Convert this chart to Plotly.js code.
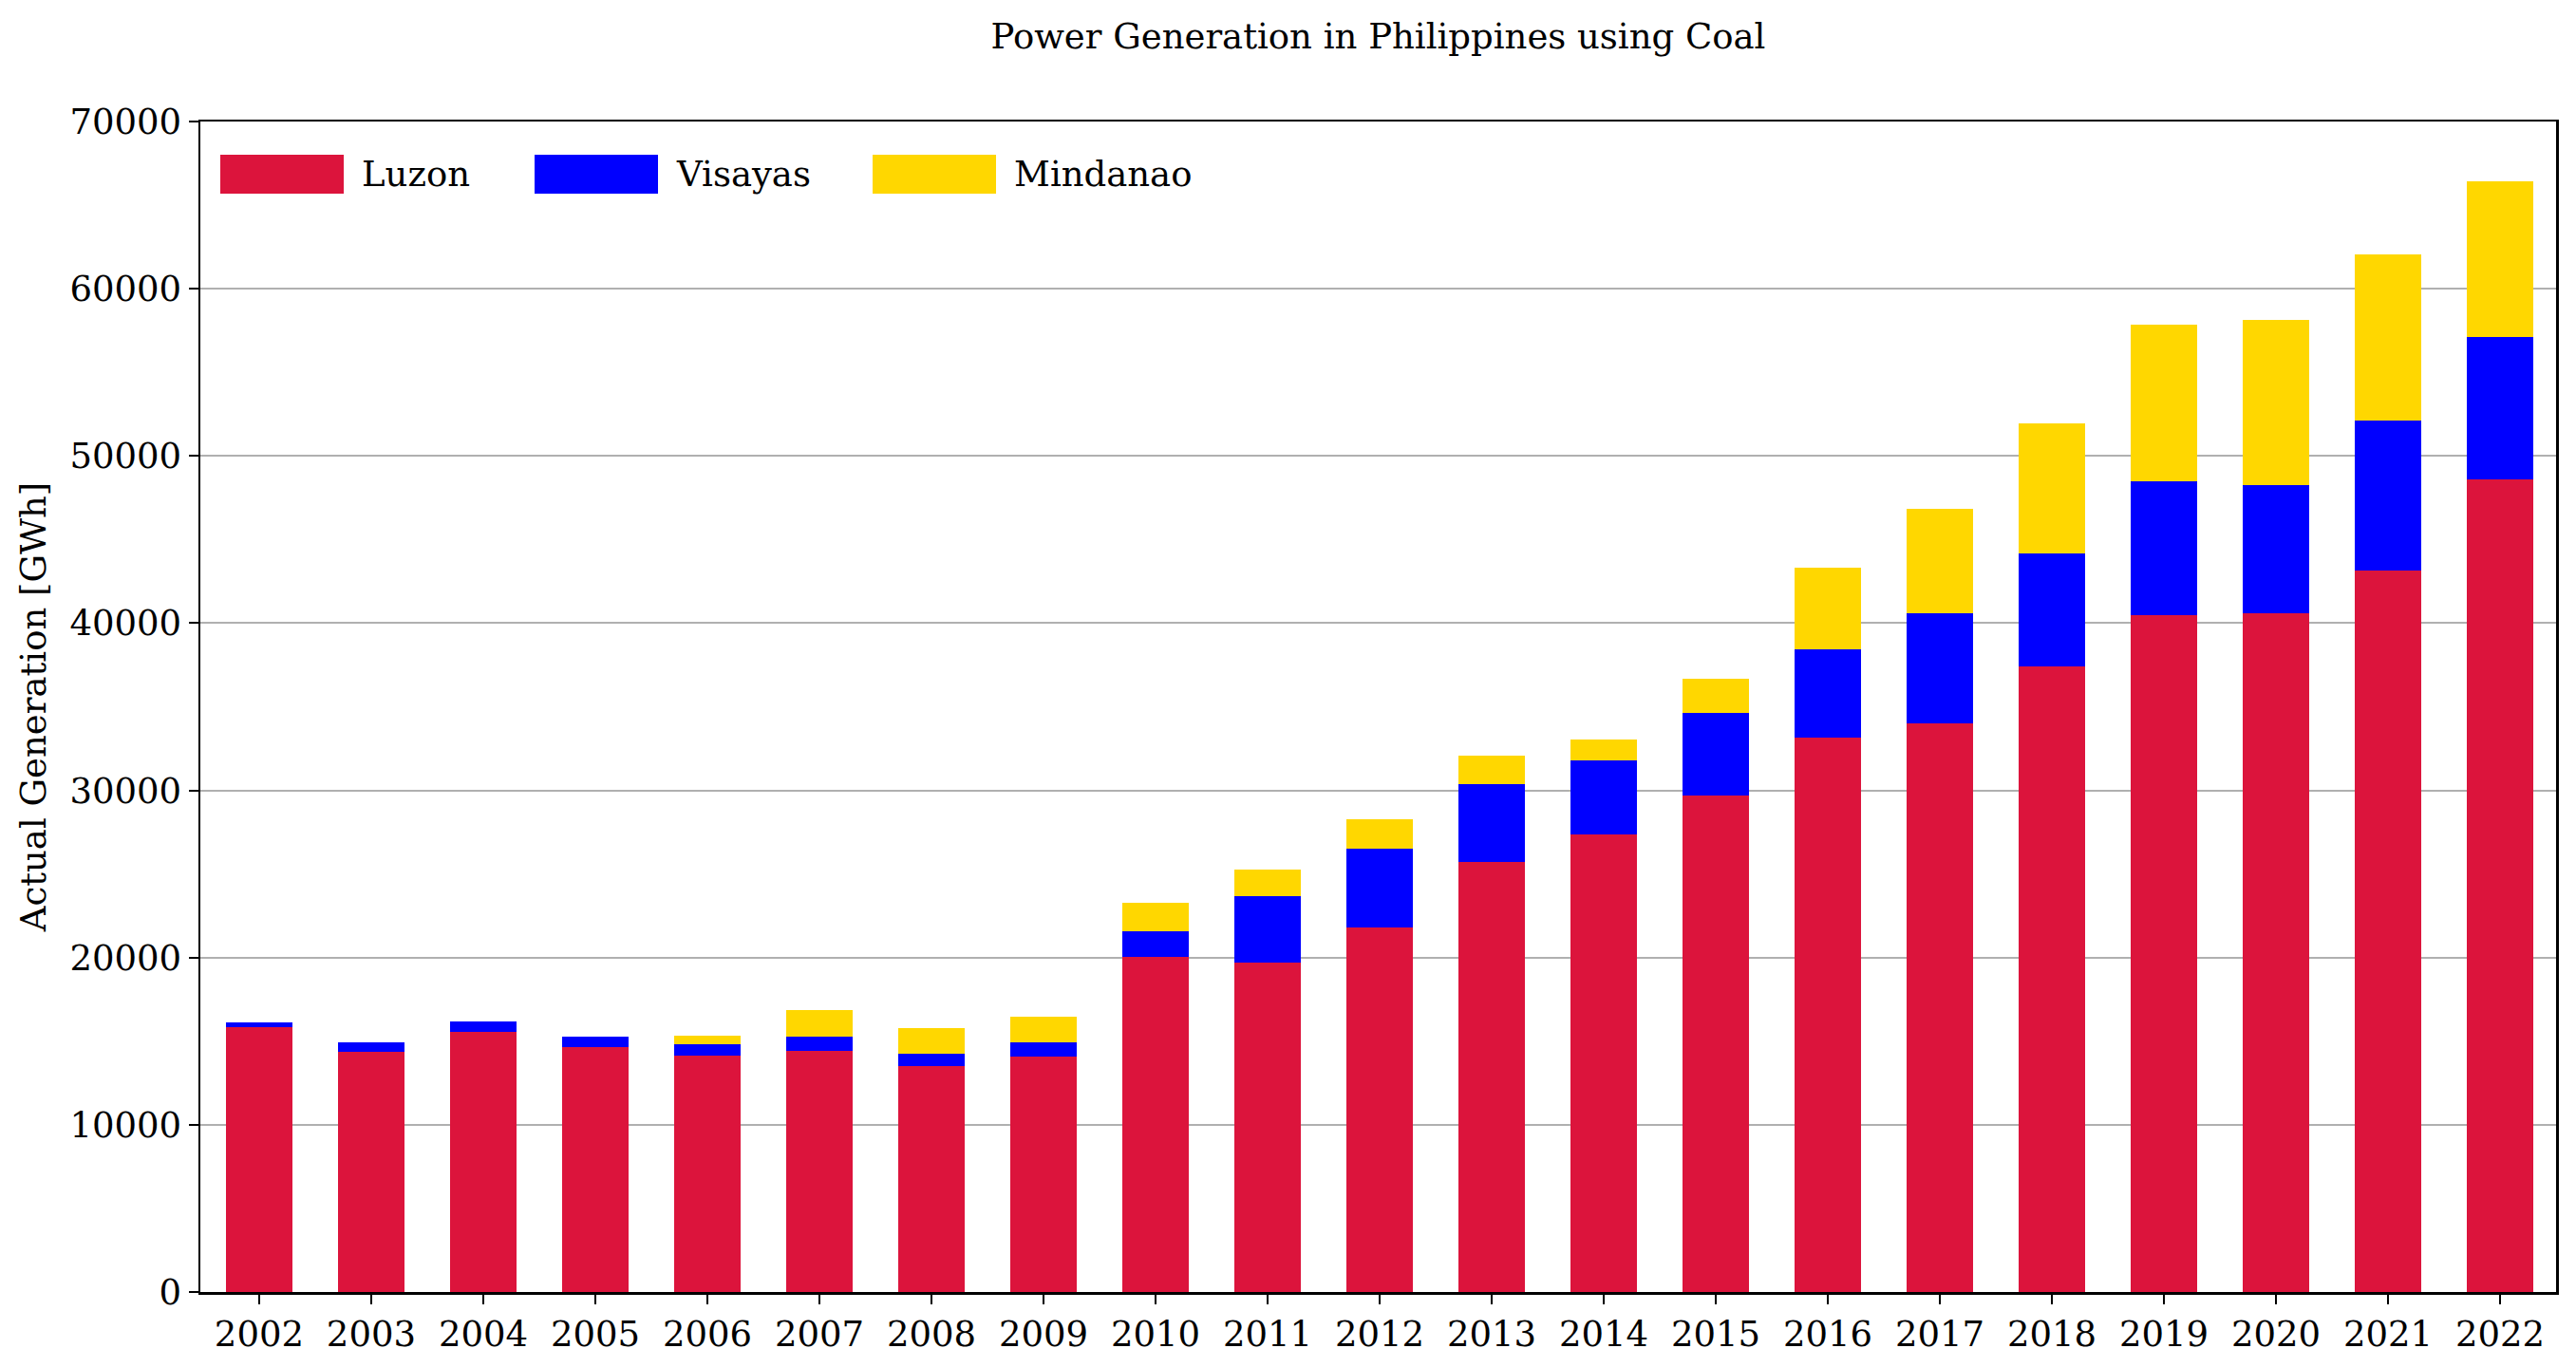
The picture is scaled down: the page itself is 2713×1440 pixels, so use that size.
<!DOCTYPE html>
<html>
<head>
<meta charset="utf-8">
<script src="https://cdn.plot.ly/plotly-3.0.1.min.js"></script>
<style>
  html, body { margin: 0; padding: 0; background: #fff; }
  #chart { width: 2713px; height: 1440px; }
</style>
</head>
<body>
<div id="chart"></div>
<script>
// ---- Data (GWh) ----
const years = ["2002","2003","2004","2005","2006","2007","2008","2009","2010","2011",
               "2012","2013","2014","2015","2016","2017","2018","2019","2020","2021","2022"];
const luzon = [15830, 14360, 15550, 14640, 14130, 14410, 13500, 14070, 20030, 19680,
               21820, 25740, 27350, 29680, 33170, 33980, 37390, 40470, 40600, 43150, 48620];
const visayas = [290, 560, 620, 630, 680, 860, 740, 850, 1530, 4020,
                 4720, 4660, 4420, 4930, 5280, 6630, 6760, 8020, 7660, 8990, 8510];
const mindanao = [0, 0, 0, 0, 510, 1590, 1540, 1540, 1740, 1580,
                  1720, 1660, 1260, 2040, 4880, 6220, 7770, 9360, 9880, 9910, 9320];
const seriesNames = ["Luzon", "Visayas", "Mindanao"];
const yTicks = [0, 10000, 20000, 30000, 40000, 50000, 60000, 70000];

// ---- Styles ----
const colors = ["#DC143C", "#0000FF", "#FFD700"];
const FONT = "'DejaVu Serif', 'Noto Serif', serif";
const W = 2713, H = 1440;
const M = {l: 211, r: 21, t: 128, b: 79};
const plotW = W - M.l - M.r, plotH = H - M.t - M.b;

const series = [luzon, visayas, mindanao];
const traces = series.map((vals, i) => ({
  type: "bar",
  x: years,
  y: vals,
  name: seriesNames[i],
  marker: {color: colors[i], line: {width: 0}},
  showlegend: false,
  hoverinfo: "x+y+name"
}));

// Custom legend (matplotlib-like wide swatches) in pixel -> paper coords
const legendSwatchX = [232, 563, 919];  // px
const swW = 130, swTop = 163, swBot = 204, textGap = 17;
const px2x = p => (p - M.l) / plotW;
const py2y = p => (H - M.b - p) / plotH;
const shapes = [];
const annotations = [];
seriesNames.forEach((nm, i) => {
  shapes.push({
    type: "rect", xref: "paper", yref: "paper",
    x0: px2x(legendSwatchX[i]), x1: px2x(legendSwatchX[i] + swW),
    y0: py2y(swBot), y1: py2y(swTop),
    fillcolor: colors[i], line: {width: 0}
  });
  annotations.push({
    xref: "paper", yref: "paper",
    x: px2x(legendSwatchX[i] + swW + textGap), y: py2y((swTop + swBot) / 2),
    xanchor: "left", yanchor: "middle", showarrow: false,
    text: nm, font: {family: FONT, size: 37, color: "#000"}
  });
});

const layout = {
  width: W, height: H,
  margin: M,
  paper_bgcolor: "#fff", plot_bgcolor: "#fff",
  barmode: "stack",
  bargap: 0.4,
  font: {family: FONT, size: 37, color: "#000"},
  title: {
    text: "Power Generation in Philippines using Coal",
    font: {family: FONT, size: 37, color: "#000"},
    x: 0.5, xref: "paper", xanchor: "center",
    y: 1 - 38 / H, yref: "container", yanchor: "middle"
  },
  xaxis: {
    type: "category",
    range: [-0.525, 20.5],
    showline: true, linecolor: "#000", linewidth: 2.5, mirror: true,
    ticks: "outside", ticklen: 10, tickwidth: 2, tickcolor: "#000",
    showgrid: false,
    tickfont: {family: FONT, size: 37, color: "#000"}
  },
  yaxis: {
    range: [0, 70000],
    tickvals: yTicks,
    ticktext: yTicks.map(String),
    showline: true, linecolor: "#000", linewidth: 2.5, mirror: true,
    ticks: "outside", ticklen: 10, tickwidth: 2, tickcolor: "#000",
    showgrid: true, gridcolor: "#b0b0b0", gridwidth: 2,
    zeroline: false,
    tickfont: {family: FONT, size: 37, color: "#000"},
    title: {text: "Actual Generation [GWh]", font: {family: FONT, size: 37, color: "#000"}, standoff: 14}
  },
  shapes: shapes,
  annotations: annotations,
  showlegend: false
};

Plotly.newPlot("chart", traces, layout, {staticPlot: true, displayModeBar: false});
</script>
</body>
</html>
